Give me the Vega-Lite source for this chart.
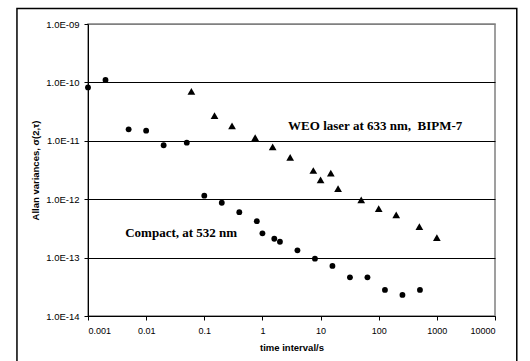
{
  "$schema": "https://vega.github.io/schema/vega-lite/v6.json",
  "width": 407,
  "height": 292,
  "autosize": "none",
  "padding": {"left": 88, "top": 24, "right": 35, "bottom": 45},
  "background": "white",
  "config": {
    "view": {"stroke": "#808080", "strokeWidth": 1.5},
    "font": "Liberation Sans",
    "axis": {
      "domainColor": "black",
      "tickColor": "black",
      "labelColor": "black",
      "titleColor": "black",
      "labelFont": "Liberation Sans",
      "titleFont": "Liberation Sans",
      "titleFontWeight": "bold"
    }
  },
  "datasets": {
    "points": [
      {"t": 0.001, "v": 8.2e-11, "series": "Compact, at 532 nm"},
      {"t": 0.002, "v": 1.1e-10, "series": "Compact, at 532 nm"},
      {"t": 0.005, "v": 1.57e-11, "series": "Compact, at 532 nm"},
      {"t": 0.01, "v": 1.49e-11, "series": "Compact, at 532 nm"},
      {"t": 0.02, "v": 8.4e-12, "series": "Compact, at 532 nm"},
      {"t": 0.05, "v": 9.3e-12, "series": "Compact, at 532 nm"},
      {"t": 0.1, "v": 1.15e-12, "series": "Compact, at 532 nm"},
      {"t": 0.2, "v": 8.7e-13, "series": "Compact, at 532 nm"},
      {"t": 0.4, "v": 6.0e-13, "series": "Compact, at 532 nm"},
      {"t": 0.8, "v": 4.2e-13, "series": "Compact, at 532 nm"},
      {"t": 1.0, "v": 2.6e-13, "series": "Compact, at 532 nm"},
      {"t": 1.6, "v": 2.1e-13, "series": "Compact, at 532 nm"},
      {"t": 2.0, "v": 1.87e-13, "series": "Compact, at 532 nm"},
      {"t": 4.0, "v": 1.33e-13, "series": "Compact, at 532 nm"},
      {"t": 8.0, "v": 9.6e-14, "series": "Compact, at 532 nm"},
      {"t": 16, "v": 7.2e-14, "series": "Compact, at 532 nm"},
      {"t": 32, "v": 4.6e-14, "series": "Compact, at 532 nm"},
      {"t": 64, "v": 4.6e-14, "series": "Compact, at 532 nm"},
      {"t": 128, "v": 2.8e-14, "series": "Compact, at 532 nm"},
      {"t": 256, "v": 2.3e-14, "series": "Compact, at 532 nm"},
      {"t": 512, "v": 2.8e-14, "series": "Compact, at 532 nm"},
      {"t": 0.06, "v": 7.0e-11, "series": "WEO laser at 633 nm, BIPM-7"},
      {"t": 0.15, "v": 2.7e-11, "series": "WEO laser at 633 nm, BIPM-7"},
      {"t": 0.3, "v": 1.8e-11, "series": "WEO laser at 633 nm, BIPM-7"},
      {"t": 0.75, "v": 1.13e-11, "series": "WEO laser at 633 nm, BIPM-7"},
      {"t": 1.5, "v": 7.9e-12, "series": "WEO laser at 633 nm, BIPM-7"},
      {"t": 3.0, "v": 5.2e-12, "series": "WEO laser at 633 nm, BIPM-7"},
      {"t": 7.5, "v": 3.1e-12, "series": "WEO laser at 633 nm, BIPM-7"},
      {"t": 10, "v": 2.15e-12, "series": "WEO laser at 633 nm, BIPM-7"},
      {"t": 15, "v": 2.8e-12, "series": "WEO laser at 633 nm, BIPM-7"},
      {"t": 20, "v": 1.52e-12, "series": "WEO laser at 633 nm, BIPM-7"},
      {"t": 50, "v": 9.7e-13, "series": "WEO laser at 633 nm, BIPM-7"},
      {"t": 100, "v": 6.9e-13, "series": "WEO laser at 633 nm, BIPM-7"},
      {"t": 200, "v": 5.4e-13, "series": "WEO laser at 633 nm, BIPM-7"},
      {"t": 500, "v": 3.4e-13, "series": "WEO laser at 633 nm, BIPM-7"},
      {"t": 1000, "v": 2.2e-13, "series": "WEO laser at 633 nm, BIPM-7"}
    ],
    "labels": [
      {"t": 87, "v": 1.8e-11, "label": "WEO laser at 633 nm,\u00a0 BIPM-7"},
      {"t": 0.04, "v": 2.64e-13, "label": "Compact, at 532 nm"}
    ],
    "frame": [
      {"t": 6.0e-5, "t2": 23700, "v": 1.84e-9, "v2": 1e-15}
    ]
  },
  "layer": [
    {
      "data": {"name": "frame"},
      "mark": {"type": "rect", "fill": null, "stroke": "black", "strokeWidth": 1.5, "clip": false},
      "encoding": {
        "x": {"field": "t", "type": "quantitative", "scale": {"type": "log", "domain": [0.001, 10000], "nice": false}},
        "x2": {"field": "t2"},
        "y": {"field": "v", "type": "quantitative", "scale": {"type": "log", "domain": [1e-14, 1e-9], "nice": false}},
        "y2": {"field": "v2"}
      }
    },
    {
      "data": {"name": "points"},
      "mark": {"type": "point", "filled": true, "opacity": 1, "color": "black"},
      "encoding": {
        "x": {
          "field": "t", "type": "quantitative",
          "scale": {"type": "log", "domain": [0.001, 10000], "nice": false},
          "axis": {
            "title": "time interval/s",
            "values": [0.001, 0.01, 0.1, 1, 10, 100, 1000, 10000],
            "labelExpr": "format(datum.value, '~g')",
            "grid": false,
            "tickSize": 4,
            "labelFontSize": 9,
            "labelPadding": 6,
            "titleFontSize": 9.5,
            "titlePadding": 7
          }
        },
        "y": {
          "field": "v", "type": "quantitative",
          "scale": {"type": "log", "domain": [1e-14, 1e-9], "nice": false},
          "axis": {
            "title": "Allan variances, σ(2,τ)",
            "values": [1e-14, 1e-13, 1e-12, 1e-11, 1e-10, 1e-9],
            "labelExpr": "'1.0E-' + (round(-log(datum.value)/LN10) < 10 ? '0' : '') + round(-log(datum.value)/LN10)",
            "grid": true,
            "gridColor": {"condition": {"test": "datum.value >= 9e-10", "value": "#808080"}, "value": "black"},
            "gridOpacity": 1,
            "gridWidth": 1,
            "tickSize": 4,
            "labelFontSize": 9.5,
            "labelPadding": 5,
            "titleFontSize": 9.5,
            "titlePadding": 5
          }
        },
        "shape": {
          "field": "series", "type": "nominal",
          "scale": {"domain": ["Compact, at 532 nm", "WEO laser at 633 nm, BIPM-7"], "range": ["circle", "triangle-up"]},
          "legend": null
        },
        "size": {
          "field": "series", "type": "nominal",
          "scale": {"domain": ["Compact, at 532 nm", "WEO laser at 633 nm, BIPM-7"], "range": [34, 60]},
          "legend": null
        }
      }
    },
    {
      "data": {"name": "labels"},
      "mark": {"type": "text", "font": "Liberation Serif", "fontWeight": "bold", "fontSize": 13, "align": "center", "baseline": "middle", "color": "black"},
      "encoding": {
        "x": {"field": "t", "type": "quantitative"},
        "y": {"field": "v", "type": "quantitative"},
        "text": {"field": "label"}
      }
    }
  ]
}
